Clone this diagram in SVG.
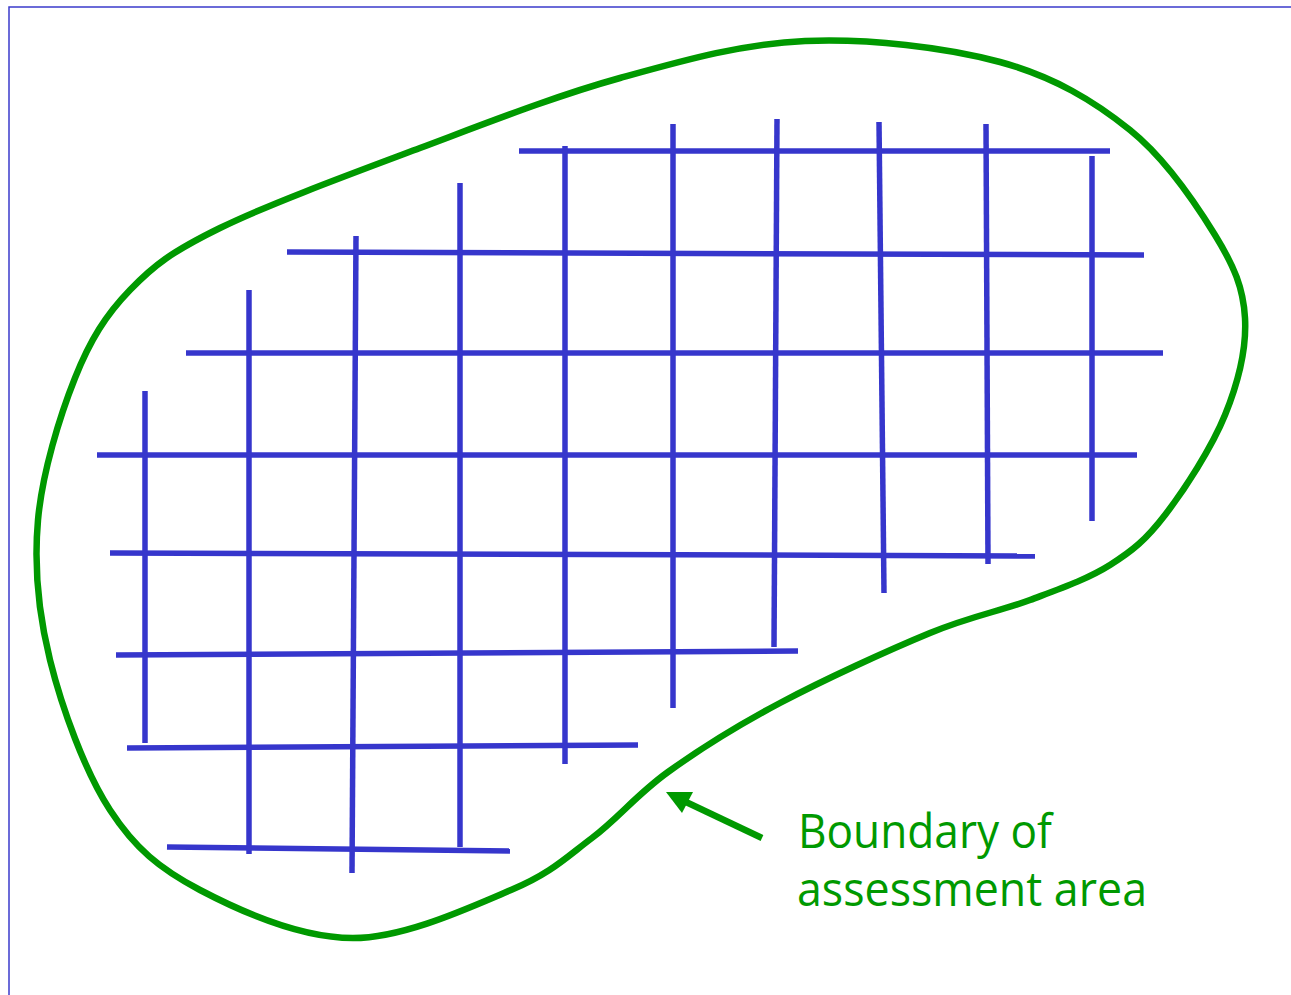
<svg xmlns="http://www.w3.org/2000/svg" width="1291" height="995" viewBox="0 0 1291 995">
  <style>
    .frame { stroke: #3b3bcc; stroke-width: 1.5; fill: none; }
    .grid line { stroke: #3636cc; stroke-width: 5.5; stroke-linecap: butt; }
    .bnd { stroke: #009900; stroke-width: 6.5; fill: none; stroke-linejoin: round; }
    .lbl { fill: #009900; font-family: "Open Sans", "Noto Sans", "DejaVu Sans", sans-serif; font-size: 47px; }
  </style>
  <rect width="1291" height="995" fill="#ffffff"/>
  <g id="frame">
    <path class="frame" d="M9,995 V7 H1291"/>
  </g>
  <g id="boundary">
    <path class="bnd" d="M805,41 C868.3,38.3 945.8,47.2 1000,62 C1054.2,76.8 1094.2,101.2 1130,130 C1165.8,158.8 1195.8,203.7 1215,235 C1234.2,266.3 1243.3,288 1245,318 C1246.7,348 1238.3,382.2 1225,415 C1211.7,447.8 1184.2,490 1165,515 C1145.8,540 1132.5,550.8 1110,565 C1087.5,579.2 1060,588.7 1030,600 C1000,611.3 971.7,615.8 930,633 C888.3,650.2 823.7,679.8 780,703 C736.3,726.2 699.3,749.5 668,772 C636.7,794.5 618.2,818.3 592,838 C565.8,857.7 550.8,873.3 511,890 C471.2,906.7 404.8,938 353,938 C301.2,938 240.5,911.3 200,890 C159.5,868.7 135,848.3 110,810 C85,771.7 62,708.3 50,660 C38,611.7 33.8,567 38,520 C42.2,473 59.7,416.3 75,378 C90.3,339.7 105.8,315 130,290 C154.2,265 171.7,251.7 220,228 C268.3,204.3 353.3,173 420,148 C486.7,123 555.8,95.8 620,78 C684.2,60.2 741.7,43.7 805,41 Z"/>
  </g>
  <g id="grid" class="grid">
    <line x1="519" y1="151" x2="1110" y2="151"/>
    <line x1="287" y1="252" x2="1144" y2="255"/>
    <line x1="186" y1="353" x2="1163" y2="353"/>
    <line x1="97" y1="455" x2="1137" y2="455"/>
    <line x1="110" y1="553" x2="1035" y2="556"/>
    <line x1="116" y1="655" x2="798" y2="651"/>
    <line x1="127" y1="748" x2="638" y2="745"/>
    <line x1="167" y1="847" x2="510" y2="851"/>
    <line x1="145" y1="391" x2="145" y2="743"/>
    <line x1="249" y1="290" x2="249" y2="854"/>
    <line x1="356" y1="236" x2="352" y2="873"/>
    <line x1="460" y1="183" x2="460" y2="847"/>
    <line x1="565" y1="146" x2="565" y2="764"/>
    <line x1="673" y1="124" x2="673" y2="708"/>
    <line x1="777" y1="119" x2="774" y2="647"/>
    <line x1="879" y1="122" x2="884" y2="593"/>
    <line x1="986" y1="124" x2="988" y2="564"/>
    <line x1="1092" y1="156" x2="1092" y2="521"/>
  </g>
  <g id="connectors">
    <line x1="762" y1="838" x2="686" y2="802" stroke="#009900" stroke-width="6.5"/>
    <polygon points="666,792 693,792 682,813" fill="#009900"/>
  </g>
  <g id="label">
    <text class="lbl" x="798" y="848" textLength="254" lengthAdjust="spacingAndGlyphs">Boundary of</text>
    <text class="lbl" x="797" y="906" textLength="350" lengthAdjust="spacingAndGlyphs">assessment area</text>
  </g>
</svg>
